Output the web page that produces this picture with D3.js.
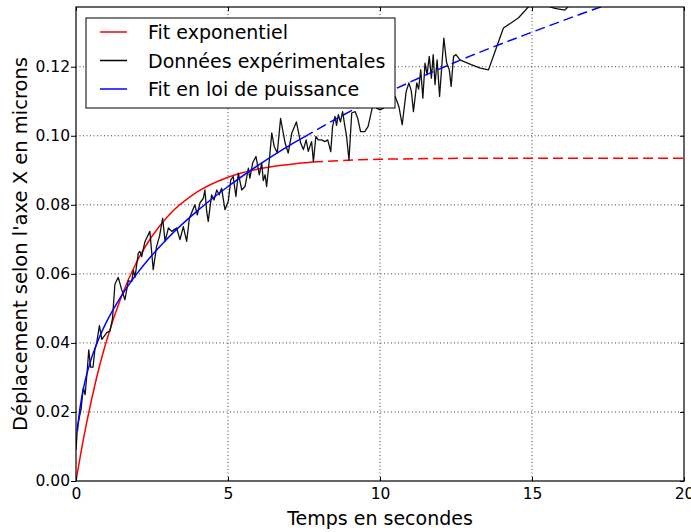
<!DOCTYPE html>
<html>
<head>
<meta charset="utf-8">
<script src="https://cdn.jsdelivr.net/npm/d3@7"></script>
<style>
body { margin: 0; background: #fff; }
svg { display: block; }
text { font-family: "DejaVu Sans", sans-serif; }
</style>
</head>
<body>
<svg id="chart"></svg>
<script>
var tempsMesure = [
  0, 0.05, 0.10, 0.17, 0.24, 0.30, 0.37, 0.42, 0.48, 0.56,
  0.62, 0.68, 0.77, 0.85, 0.93, 1.01, 1.12, 1.20, 1.28, 1.39,
  1.50, 1.61, 1.72, 1.83, 1.89, 1.94, 2.05, 2.10, 2.16, 2.27,
  2.43, 2.54, 2.65, 2.75, 2.85, 2.93, 3.04, 3.15, 3.31, 3.42,
  3.53, 3.64, 3.73, 3.80, 3.91, 3.99, 4.08, 4.19, 4.24, 4.30,
  4.35, 4.46, 4.54, 4.63, 4.71, 4.79, 4.90, 5.01, 5.09, 5.17,
  5.26, 5.34, 5.45, 5.56, 5.67, 5.72, 5.81, 5.92, 6.03, 6.11,
  6.16, 6.22, 6.27, 6.36, 6.44, 6.52, 6.62, 6.73, 6.88, 6.98,
  7.10, 7.25, 7.39, 7.48, 7.57, 7.64, 7.75, 7.81, 7.89, 7.97,
  8.08, 8.19, 8.28, 8.38, 8.44, 8.52, 8.57, 8.63, 8.70, 8.77,
  8.84, 8.90, 8.98, 9.07, 9.18, 9.27, 9.36, 9.50, 9.61, 9.73,
  9.80, 9.89, 10.00, 10.11, 10.22, 10.33, 10.50, 10.62, 10.73, 10.86,
  10.95, 11.03, 11.10, 11.21, 11.27, 11.34, 11.41, 11.48, 11.55, 11.62,
  11.69, 11.75, 11.81, 11.88, 11.96, 12.10, 12.19, 12.28, 12.34, 12.42,
  12.50, 12.63, 13.00, 13.30, 13.57, 14.06, 14.55, 14.90, 15.20, 15.55,
  15.75, 16.08, 16.20, 16.50
];
var deplMesure = [
  0.009, 0.016, 0.018, 0.021, 0.027, 0.025, 0.032, 0.038, 0.033, 0.033,
  0.038, 0.040, 0.045, 0.041, 0.042, 0.043, 0.0435, 0.047, 0.057, 0.059,
  0.0555, 0.0525, 0.058, 0.0578, 0.061, 0.059, 0.066, 0.0665, 0.065, 0.0694,
  0.0723, 0.0612, 0.0679, 0.071, 0.0761, 0.0694, 0.0733, 0.0723, 0.0733, 0.0699,
  0.0737, 0.0694, 0.0761, 0.0776, 0.0800, 0.0771, 0.0806, 0.0819, 0.0843, 0.0780,
  0.0752, 0.0829, 0.0814, 0.0843, 0.0829, 0.0848, 0.0786, 0.0810, 0.0872, 0.0882,
  0.0824, 0.0892, 0.0843, 0.0853, 0.0906, 0.0877, 0.0921, 0.0940, 0.0887, 0.0921,
  0.0870, 0.0887, 0.0853, 0.0930, 0.1008, 0.0969, 0.0950, 0.1050, 0.0979, 0.0950,
  0.1008, 0.1040, 0.0979, 0.0960, 0.0988, 0.0955, 0.0983, 0.0925, 0.0998, 0.0988,
  0.0988, 0.0983, 0.0988, 0.0954, 0.1027, 0.1056, 0.1030, 0.1061, 0.1040, 0.1070,
  0.1030, 0.0998, 0.0930, 0.1066, 0.1070, 0.1050, 0.1012, 0.1012, 0.1027, 0.1075,
  0.1095, 0.1080, 0.1075, 0.1080, 0.1104, 0.1110, 0.1114, 0.1085, 0.1032, 0.1128,
  0.1153, 0.1130, 0.1070, 0.1153, 0.1135, 0.1191, 0.1109, 0.1210, 0.1177, 0.1230,
  0.1167, 0.1235, 0.1148, 0.1220, 0.1114, 0.1283, 0.1212, 0.1191, 0.1143, 0.1230,
  0.1235, 0.1220, 0.1206, 0.1196, 0.1191, 0.1312, 0.1341, 0.1375, 0.1395, 0.1375,
  0.1369, 0.1364, 0.1375, 0.1400
];

var tempsFitExp = [0, 0.25, 0.5, 0.75, 1, 1.5, 2, 2.5, 3, 4, 5, 6, 7, 7.8, 10, 14, 20];
var deplFitExp = [0, 0.0124, 0.0231, 0.0325, 0.0405, 0.0536, 0.0635, 0.0709, 0.0765, 0.0838,
                  0.0880, 0.0904, 0.0917, 0.0924, 0.0932, 0.0935, 0.0935];
var finFitExp = 7.8;   // trait plein jusqu'ici, pointille apres

// fit en loi de puissance (courbe bleue)
var tempsFitPuiss = [0.05, 0.1, 0.2, 0.3, 0.5, 0.75, 1, 1.5, 2, 2.5, 3, 4, 5, 6, 7, 7.5, 9, 11, 13, 15, 17, 20];
var deplFitPuiss = [0.0146, 0.019, 0.0248, 0.029, 0.0353, 0.0412, 0.046, 0.0537, 0.060, 0.0654,
                    0.0702, 0.0783, 0.0853, 0.0915, 0.0971, 0.0996, 0.107, 0.1156, 0.1232, 0.130,
                    0.1365, 0.1453];
var finFitPuiss = 7.5;

var xTicks = [0, 5, 10, 15, 20];
var yTicks = [0, 0.02, 0.04, 0.06, 0.08, 0.10, 0.12];
var legendLabels = ["Fit exponentiel", "Données expérimentales", "Fit en loi de puissance"];
var legendColors = ["#ff0000", "#000000", "#0000ff"];

var width = 691, height = 532;
var pl = 76, pr = 684, pt = 7, pb = 481;   // cadre du trace

var svg = d3.select("#chart").attr("width", width).attr("height", height);

var x = d3.scaleLinear().domain([0, 20]).range([pl, pr]);
var y = d3.scaleLinear().domain([0, 0.1373]).range([pb, pt]);

function pts(ts, vs) { return ts.map(function(t, i) { return {t: t, v: vs[i]}; }); }

var mesure = pts(tempsMesure, deplMesure);
var fitExp = pts(tempsFitExp, deplFitExp);
var fitPuiss = pts(tempsFitPuiss, deplFitPuiss);

svg.append("defs").append("clipPath").attr("id", "clip")
  .append("rect").attr("x", pl).attr("y", pt)
  .attr("width", pr - pl).attr("height", pb - pt);

// grille
var grid = svg.append("g");
grid.selectAll("line.gx").data(xTicks.slice(1, -1)).enter().append("line")
  .attr("x1", function(d) { return x(d); }).attr("x2", function(d) { return x(d); })
  .attr("y1", pt).attr("y2", pb);
grid.selectAll("line.gy").data(yTicks.slice(1)).enter().append("line")
  .attr("x1", pl).attr("x2", pr)
  .attr("y1", function(d) { return y(d); }).attr("y2", function(d) { return y(d); });
grid.selectAll("line")
  .attr("stroke", "#000").attr("stroke-opacity", 0.75)
  .attr("stroke-width", 1).attr("stroke-dasharray", "1,2.5");

var plot = svg.append("g").attr("clip-path", "url(#clip)");

var ligne = d3.line().x(function(d) { return x(d.t); }).y(function(d) { return y(d.v); });
var courbe = d3.line().x(function(d) { return x(d.t); }).y(function(d) { return y(d.v); })
  .curve(d3.curveMonotoneX);

// fits : plein puis pointille
plot.append("path").datum(fitExp.filter(function(d) { return d.t <= finFitExp; }))
  .attr("d", courbe).attr("fill", "none").attr("stroke", "#ff0000").attr("stroke-width", 1.5);
plot.append("path").datum(fitExp.filter(function(d) { return d.t >= finFitExp; }))
  .attr("d", courbe).attr("fill", "none").attr("stroke", "#ff0000").attr("stroke-width", 1.5)
  .attr("stroke-dasharray", "10,5");

plot.append("path").datum(mesure)
  .attr("d", ligne).attr("fill", "none").attr("stroke", "#111").attr("stroke-width", 1.3)
  .attr("stroke-linejoin", "round");

plot.append("path").datum(fitPuiss.filter(function(d) { return d.t <= finFitPuiss; }))
  .attr("d", courbe).attr("fill", "none").attr("stroke", "#0000ff").attr("stroke-width", 1.5);
plot.append("path").datum(fitPuiss.filter(function(d) { return d.t >= finFitPuiss; }))
  .attr("d", courbe).attr("fill", "none").attr("stroke", "#0000ff").attr("stroke-width", 1.5)
  .attr("stroke-dasharray", "10,5");

// axes
var fmt = d3.format(".2f");
var axB = svg.append("g").attr("transform", "translate(0," + pb + ")")
  .call(d3.axisBottom(x).tickValues(xTicks).tickSize(-4).tickPadding(6));
axB.selectAll("text").attr("y", 7).attr("dy", "0.71em");
var axL = svg.append("g").attr("transform", "translate(" + pl + ",0)")
  .call(d3.axisLeft(y).tickValues(yTicks).tickFormat(fmt).tickSize(5).tickPadding(1));
svg.append("g").attr("transform", "translate(0," + pt + ")")
  .call(d3.axisTop(x).tickValues(xTicks).tickSize(-4).tickFormat(""));
svg.append("g").attr("transform", "translate(" + pr + ",0)")
  .call(d3.axisRight(y).tickValues(yTicks).tickSize(-4).tickFormat(""));
svg.selectAll(".domain").remove();
svg.selectAll(".tick line").attr("stroke", "#000");
svg.selectAll(".tick text").attr("font-size", "15.5px").attr("fill", "#000")
  .attr("font-family", "DejaVu Sans, sans-serif");

svg.append("rect").attr("x", pl).attr("y", pt)
  .attr("width", pr - pl).attr("height", pb - pt)
  .attr("fill", "none").attr("stroke", "#000").attr("stroke-width", 1.2);

// titres des axes
svg.append("text").attr("x", (pl + pr) / 2).attr("y", 525)
  .attr("text-anchor", "middle").attr("font-size", "19px")
  .text("Temps en secondes");
svg.append("text")
  .attr("transform", "translate(27," + ((pt + pb) / 2) + ") rotate(-90)")
  .attr("text-anchor", "middle").attr("font-size", "19.5px")
  .text("Déplacement selon l'axe X en microns");

// legende
var leg = svg.append("g");
leg.append("rect").attr("x", 86).attr("y", 18).attr("width", 309).attr("height", 90)
  .attr("fill", "#fff").attr("stroke", "#000").attr("stroke-width", 1);
var items = leg.selectAll("g.item").data(legendLabels).enter().append("g")
  .attr("transform", function(d, i) { return "translate(0," + (32 + i * 28.5) + ")"; });
items.append("line").attr("x1", 100).attr("x2", 127).attr("y1", 0).attr("y2", 0)
  .attr("stroke", function(d, i) { return legendColors[i]; }).attr("stroke-width", 1.5);
items.append("text").attr("x", 148).attr("y", 7).attr("font-size", "19px")
  .text(function(d) { return d; });
</script>
</body>
</html>
